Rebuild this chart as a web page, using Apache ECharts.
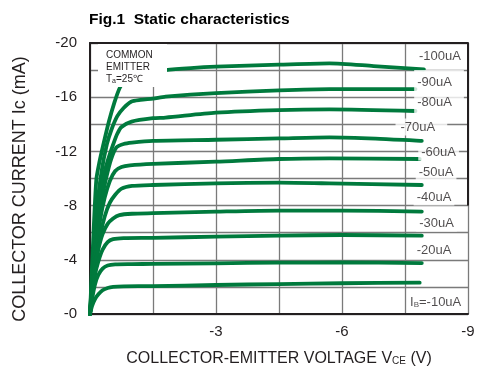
<!DOCTYPE html>
<html>
<head>
<meta charset="utf-8">
<script src="https://cdn.jsdelivr.net/npm/echarts@6/dist/echarts.min.js"></script>
<style>
  html, body { margin: 0; padding: 0; background: #fff; }
  #chart { width: 478px; height: 373px; }
</style>
</head>
<body>
<div id="chart"></div>
<script>
// Collector current Ic (mA) versus collector-emitter voltage Vce (V), one curve per base current.
const ib100 = [[0,0],[-0.07,-5.0],[-0.15,-9.9],[-0.23,-11.3],[-0.31,-12.4],[-0.45,-14.2],[-0.58,-15.6],[-0.71,-16.7],[-0.85,-17.3],[-1.1,-17.7],[-1.8,-18.0],[-2.4,-18.15],[-3.0,-18.25],[-4.5,-18.4],[-5.7,-18.5],[-6.75,-18.3],[-7.95,-18.05]];
const ib90  = [[0,0],[-0.07,-3.8],[-0.15,-7.4],[-0.28,-10.6],[-0.4,-12.5],[-0.51,-13.6],[-0.65,-14.6],[-0.8,-15.2],[-0.98,-15.67],[-1.2,-15.8],[-1.5,-15.9],[-1.8,-16.04],[-3.0,-16.3],[-4.5,-16.5],[-5.7,-16.6],[-7.75,-16.6]];
const ib80  = [[0,0],[-0.07,-3.2],[-0.15,-6.4],[-0.25,-9.0],[-0.34,-10.4],[-0.43,-11.4],[-0.55,-12.5],[-0.65,-13.3],[-0.75,-13.8],[-0.99,-14.2],[-1.5,-14.45],[-1.8,-14.5],[-3.0,-14.86],[-4.5,-15.05],[-5.7,-15.1],[-7.75,-14.98]];
const ib70  = [[0,0],[-0.07,-2.8],[-0.15,-5.6],[-0.25,-8.0],[-0.39,-10.1],[-0.5,-11.4],[-0.63,-12.3],[-0.8,-12.55],[-1.0,-12.65],[-1.5,-12.78],[-3.0,-12.86],[-4.5,-12.96],[-5.7,-13.04],[-6.8,-12.95],[-7.9,-12.77]];
const ib60  = [[0,0],[-0.07,-2.4],[-0.15,-4.9],[-0.25,-7.1],[-0.35,-8.6],[-0.47,-9.8],[-0.6,-10.55],[-0.75,-10.85],[-0.95,-10.97],[-1.5,-11.08],[-3.0,-11.24],[-4.5,-11.44],[-5.7,-11.49],[-7.85,-11.44]];
const ib50  = [[0,0],[-0.07,-2.0],[-0.15,-4.0],[-0.25,-5.9],[-0.35,-7.2],[-0.47,-8.2],[-0.6,-8.8],[-0.75,-9.25],[-1.0,-9.45],[-1.5,-9.52],[-3.0,-9.64],[-4.5,-9.69],[-5.7,-9.64],[-7.9,-9.52]];
const ib40  = [[0,0],[-0.05,-1.7],[-0.12,-3.5],[-0.2,-4.8],[-0.3,-5.9],[-0.42,-6.65],[-0.55,-7.05],[-0.7,-7.3],[-1.0,-7.4],[-1.5,-7.44],[-3.0,-7.55],[-4.5,-7.63],[-6.0,-7.63],[-7.9,-7.56]];
const ib30  = [[0,0],[-0.05,-1.4],[-0.12,-2.9],[-0.2,-3.9],[-0.3,-4.75],[-0.42,-5.3],[-0.55,-5.52],[-0.8,-5.6],[-1.5,-5.62],[-3.0,-5.71],[-4.5,-5.78],[-6.0,-5.83],[-7.9,-5.78]];
const ib20  = [[0,0],[-0.05,-1.1],[-0.12,-2.2],[-0.2,-2.9],[-0.3,-3.35],[-0.42,-3.58],[-0.6,-3.66],[-1.0,-3.68],[-1.5,-3.7],[-3.0,-3.74],[-4.5,-3.79],[-6.0,-3.8],[-7.9,-3.76]];
const ib10  = [[0,0],[-0.05,-0.6],[-0.12,-1.1],[-0.2,-1.45],[-0.3,-1.75],[-0.42,-1.92],[-0.55,-2.0],[-0.8,-2.04],[-1.5,-2.06],[-3.0,-2.14],[-4.5,-2.21],[-6.0,-2.27],[-7.85,-2.31]];

const curveLabels = ['-100uA', '-90uA', '-80uA', '-70uA', '-60uA', '-50uA', '-40uA', '-30uA', '-20uA', 'IB=-10uA'];
const xTicks = [-3, -6, -9];
const xTickLabels = ['-3', '-6', '-9'];
const yTicks = [-20, -16, -12, -8, -4, 0];
const yTickLabels = ['-20', '-16', '-12', '-8', '-4', '-0'];

const curves = [ib100, ib90, ib80, ib70, ib60, ib50, ib40, ib30, ib20, ib10];

// where each curve's tag sits, in axis units, and how far its white box reaches
const labelLayout = [
  { at: [-8.33, -19.04], pad: [1, 3, 1, 3] },
  { at: [-8.31, -17.12], pad: [5, 12, 4, 3] },
  { at: [-8.31, -15.57], pad: [4, 12, 5, 3] },
  { at: [-7.89, -13.80], pad: [1, 12, 1, 5] },
  { at: [-8.30, -11.96], pad: [1, 3, 1, 3] },
  { at: [-8.24, -10.44], pad: [1, 3, 1, 3] },
  { at: [-8.19, -8.63],  pad: [1, 3, 1, 3] },
  { at: [-8.25, -6.72],  pad: [1, 3, 1, 3] },
  { at: [-8.19, -4.72],  pad: [1, 3, 1, 3] },
  { at: [-8.23, -0.89],  pad: [1, 3, 1, 3] }
];

const FONT = '"Liberation Sans", Arial, sans-serif';
const INK = '#231f20';
const GREEN = '#007a3d';

const chart = echarts.init(document.getElementById('chart'), null, { renderer: 'canvas' });

const curveSeries = curves.map((d, k) => ({
  name: curveLabels[k],
  type: 'line',
  data: d,
  smooth: 0.25,
  showSymbol: false,
  symbol: 'none',
  z: 2,
  lineStyle: { color: GREEN, width: 3.8, cap: 'round', join: 'round' }
}));

const tagSeries = {
  type: 'scatter',
  symbolSize: 0,
  z: 5,
  silent: true,
  data: labelLayout.map((l, k) => ({
    value: l.at,
    label: { padding: l.pad }
  })),
  label: {
    show: true,
    position: 'inside',
    color: INK,
    fontFamily: FONT,
    fontSize: 13,
    backgroundColor: '#fff',
    formatter: p => {
      const t = curveLabels[p.dataIndex];
      if (t.startsWith('IB')) return '{t|I}{s|B}{t|' + t.slice(2) + '}';
      return '{t|' + t + '}';
    },
    rich: {
      t: { fontFamily: FONT, fontSize: 13, color: INK, lineHeight: 15 },
      s: { fontFamily: FONT, fontSize: 8, color: INK, lineHeight: 15, verticalAlign: 'bottom', padding: [0, 0, 1, 0] }
    }
  }
};

// right-hand frame edge, drawn beneath the tag boxes
const frameSeries = {
  type: 'line',
  data: [],
  z: 3,
  silent: true,
  markLine: {
    silent: true,
    symbol: ['none', 'none'],
    label: { show: false },
    lineStyle: { color: INK, width: 2, type: 'solid' },
    data: [[{ coord: [-9, -20] }, { coord: [-9, -8] }]]
  }
};

const option = {
  animation: false,
  backgroundColor: '#fff',
  textStyle: { fontFamily: FONT },
  title: {
    text: 'Fig.1  Static characteristics',
    left: 89,
    top: 12,
    padding: 0,
    textStyle: { fontFamily: FONT, fontSize: 15.5, fontWeight: 'bold', color: '#000' }
  },
  grid: { left: 90, right: 10, top: 43, bottom: 59, containLabel: false },
  xAxis: [{
    type: 'value',
    min: -9, max: 0, interval: 1.5,
    inverse: true,
    position: 'bottom',
    axisLine: { show: true, onZero: false, lineStyle: { color: INK, width: 2 } },
    axisTick: { show: false },
    splitLine: { show: true, lineStyle: { color: '#7a7a7a', width: 1.3 } },
    axisLabel: {
      margin: 10,
      fontFamily: FONT, fontSize: 15, color: INK,
      formatter: v => { const i = xTicks.findIndex(t => Math.abs(t - v) < 1e-9); return i < 0 ? '' : xTickLabels[i]; }
    },
    name: '{a|COLLECTOR-EMITTER VOLTAGE V}{s|CE}{a| (V)}',
    nameLocation: 'middle',
    nameGap: 36,
    nameTextStyle: {
      rich: {
        a: { fontFamily: FONT, fontSize: 16, color: INK, lineHeight: 18 },
        s: { fontFamily: FONT, fontSize: 10, color: INK, lineHeight: 18, verticalAlign: 'bottom', padding: [0, 0, 2, 0] }
      }
    }
  }, {
    type: 'value',
    min: -9, max: 0,
    inverse: true,
    position: 'top',
    axisLine: { show: true, onZero: false, lineStyle: { color: INK, width: 2 } },
    axisTick: { show: false },
    axisLabel: { show: false },
    splitLine: { show: false }
  }],
  yAxis: {
    type: 'value',
    min: -20, max: 0, interval: 2,
    inverse: true,
    axisLine: { show: true, onZero: false, lineStyle: { color: INK, width: 2 } },
    axisTick: { show: false },
    splitLine: { show: true, lineStyle: { color: '#7a7a7a', width: 1.3 } },
    axisLabel: {
      margin: 13,
      fontFamily: FONT, fontSize: 15, color: INK,
      formatter: v => { const i = yTicks.findIndex(t => Math.abs(t - v) < 1e-9); return i < 0 ? '' : yTickLabels[i]; }
    },
    name: 'COLLECTOR CURRENT Ic (mA)',
    nameLocation: 'middle',
    nameGap: 61,
    nameTextStyle: { fontFamily: FONT, fontSize: 18, color: INK, padding: [0, 21, 0, 0] }
  },
  graphic: [{
    type: 'group',
    z: 100,
    children: [{
      type: 'rect',
      shape: { x: 98, y: 44, width: 69, height: 43 },
      style: { fill: '#fff' },
      z: 100
    }, {
      type: 'text',
      x: 106,
      y: 49,
      z: 101,
      style: {
        text: '{t|COMMON}\n{t|EMITTER}\n{t|T}{s|a}{t|=25℃}',
        rich: {
          t: { fontFamily: FONT, fontSize: 10, fill: INK, lineHeight: 12 },
          s: { fontFamily: FONT, fontSize: 7, fill: INK, lineHeight: 12, verticalAlign: 'bottom' }
        }
      }
    }]
  }],
  series: [...curveSeries, frameSeries, tagSeries]
};

chart.setOption(option);
</script>
</body>
</html>
